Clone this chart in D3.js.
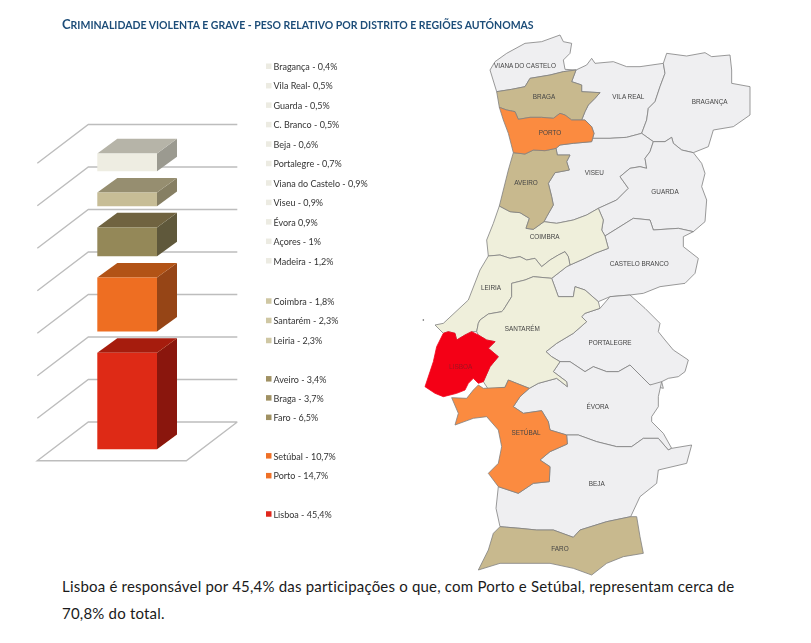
<!DOCTYPE html>
<html>
<head>
<meta charset="utf-8">
<script src="https://cdn.jsdelivr.net/npm/d3@7/dist/d3.min.js"></script>
<style>
html,body{margin:0;padding:0;background:#fff;}
svg{display:block;}
</style>
</head>
<body>
<svg id="chart" width="811" height="643"></svg>
<script>
// ---------- Chart data ----------
const titleText = "Criminalidade violenta e grave - peso relativo por distrito e regiões autónomas";
const captionLines = [
  "Lisboa é responsável por 45,4% das participações o que, com Porto e Setúbal, representam cerca de",
  "70,8% do total."
];
const barGroups = ["Lisboa", "Setúbal + Porto", "Aveiro + Braga + Faro", "Coimbra + Santarém + Leiria", "Restantes"];
const barValues = [45.4, 25.4, 13.6, 6.4, 8.4];
const barGap = 10;
const gridTicks = [0, 20, 40, 60, 80, 100, 120, 140];
const legendLabels = ["Bragança - 0,4%", "Vila Real- 0,5%", "Guarda - 0,5%", "C. Branco - 0,5%", "Beja - 0,6%", "Portalegre - 0,7%", "Viana do Castelo - 0,9%", "Viseu - 0,9%", "Évora 0,9%", "Açores - 1%", "Madeira - 1,2%", "Coimbra - 1,8%", "Santarém - 2,3%", "Leiria - 2,3%", "Aveiro - 3,4%", "Braga - 3,7%", "Faro - 6,5%", "Setúbal - 10,7%", "Porto - 14,7%", "Lisboa - 45,4%"];
const legendRows = [0, 1, 2, 3, 4, 5, 6, 7, 8, 9, 10, 12.07, 13.07, 14.1, 16.07, 17.05, 18.05, 20.03, 21.05, 23.02];
const legendClasses = [0,0,0,0,0,0,0,0,0,0,0,1,1,1,2,2,2,3,3,4];

// ---------- Map outlines (map units) ----------
const viana = [[80,185],[60,120],[75,95],[110,70],[165,40],[215,35],[270,15],[280,35],[305,40],[300,70],[280,90],[285,118],[318,120],[280,125],[240,135],[180,145],[165,170],[125,178]];
const braga = [[318,120],[305,155],[335,165],[335,185],[390,188],[375,205],[355,225],[345,245],[335,270],[305,270],[285,255],[270,250],[250,265],[215,262],[180,262],[145,268],[135,245],[110,240],[88,232],[80,185],[125,178],[165,170],[180,145],[240,135],[280,125]];
const porto = [[88,232],[110,240],[135,245],[145,268],[180,262],[215,262],[250,265],[270,250],[285,255],[305,270],[335,270],[345,270],[365,290],[372,310],[365,335],[310,340],[270,345],[258,355],[225,362],[190,360],[165,372],[130,368],[115,310],[100,270]];
const aveiro = [[130,368],[165,372],[190,360],[225,362],[258,355],[262,375],[300,375],[290,395],[298,420],[255,428],[235,460],[245,500],[250,525],[230,560],[222,575],[190,598],[168,595],[178,565],[150,548],[120,545],[88,528],[100,480],[115,420]];
const vilaReal = [[318,120],[350,105],[365,85],[375,100],[430,95],[470,110],[510,110],[580,100],[585,130],[570,170],[555,215],[535,235],[530,270],[515,310],[470,322],[420,325],[368,325],[372,310],[365,290],[345,270],[335,270],[345,245],[355,225],[375,205],[390,188],[335,185],[335,165],[305,155]];
const braganca = [[585,130],[580,100],[590,70],[650,78],[705,68],[725,80],[780,75],[785,120],[785,160],[840,170],[840,255],[790,290],[730,300],[715,350],[670,368],[635,360],[610,340],[605,322],[585,335],[550,335],[515,310],[530,270],[535,235],[555,215],[570,170]];
const viseu = [[258,355],[270,345],[310,340],[365,335],[368,325],[420,325],[470,322],[515,310],[550,335],[540,365],[525,385],[530,415],[510,410],[480,415],[450,440],[475,475],[440,510],[385,535],[350,555],[310,570],[260,580],[222,575],[230,560],[250,525],[245,500],[235,460],[255,428],[298,420],[290,395],[300,375],[262,375]];
const guarda = [[550,335],[585,335],[605,322],[610,340],[635,360],[670,368],[695,400],[705,430],[695,470],[710,510],[705,575],[670,605],[625,595],[550,600],[540,570],[490,565],[450,590],[405,618],[395,600],[400,570],[385,535],[440,510],[475,475],[450,440],[480,415],[510,410],[530,415],[525,385],[540,365]];
const casteloBranco = [[405,618],[450,590],[490,565],[540,570],[550,600],[625,595],[670,605],[640,620],[640,650],[685,685],[675,730],[645,760],[570,770],[520,790],[480,795],[420,800],[385,815],[345,780],[315,770],[310,800],[265,800],[245,745],[290,710],[300,705],[345,685],[375,670],[415,655]];
const coimbra = [[88,528],[120,545],[150,548],[178,565],[168,595],[190,598],[222,575],[260,580],[310,570],[350,555],[385,535],[400,570],[395,600],[405,618],[415,655],[375,670],[345,685],[300,705],[295,680],[285,665],[265,675],[240,690],[215,710],[195,685],[170,690],[150,680],[120,685],[90,675],[55,678],[50,630],[70,580]];
const leiria = [[55,678],[90,675],[120,685],[150,680],[170,690],[195,685],[215,710],[240,690],[265,675],[285,665],[295,680],[300,705],[290,710],[245,745],[190,740],[165,750],[125,760],[125,800],[100,840],[95,845],[55,852],[30,870],[25,880],[20,905],[5,905],[-15,915],[-40,930],[-45,910],[-65,905],[-80,910],[-105,885],[-80,880],[-5,810],[30,720]];
const santarem = [[20,905],[25,880],[30,870],[55,852],[95,845],[100,840],[125,800],[125,760],[165,750],[190,740],[245,745],[265,800],[310,800],[315,770],[345,780],[385,815],[390,835],[345,850],[335,860],[350,875],[310,910],[260,940],[228,965],[245,980],[270,995],[250,1025],[290,1055],[292,1070],[260,1045],[205,1060],[178,1075],[140,1060],[115,1050],[105,1072],[55,1078],[40,1055],[60,1010],[85,980],[55,955],[75,935],[50,930],[25,915]];
const lisboa = [[-80,910],[-65,905],[-45,910],[-40,930],[-15,915],[5,905],[25,915],[50,930],[75,935],[55,955],[85,980],[60,1010],[40,1055],[25,1060],[10,1045],[-5,1060],[-15,1080],[-40,1090],[-80,1100],[-105,1090],[-135,1070],[-120,1025],[-110,995],[-100,950]];
const portalegre = [[228,965],[260,940],[310,910],[350,875],[335,860],[345,850],[390,835],[420,800],[480,795],[525,835],[570,880],[565,905],[585,930],[610,960],[655,990],[645,1025],[625,1040],[595,1045],[575,1055],[580,1075],[540,1065],[515,1040],[480,1005],[445,1025],[410,1025],[370,1010],[345,1025],[300,995],[270,995],[245,980]];
const evora = [[178,1075],[205,1060],[260,1045],[292,1070],[290,1055],[250,1025],[270,995],[300,995],[345,1025],[370,1010],[410,1025],[445,1025],[480,1005],[515,1040],[540,1065],[575,1055],[565,1100],[565,1130],[545,1160],[545,1175],[580,1210],[605,1255],[595,1260],[565,1225],[520,1225],[485,1250],[440,1250],[380,1235],[325,1215],[290,1215],[240,1200],[235,1175],[215,1142],[160,1150],[130,1130],[150,1100]];
const setubal = [[-55,1103],[-10,1105],[10,1080],[25,1065],[40,1075],[105,1072],[115,1050],[140,1060],[178,1075],[150,1100],[130,1130],[160,1150],[215,1142],[235,1175],[240,1200],[290,1215],[292,1242],[240,1265],[210,1290],[240,1310],[238,1355],[190,1360],[145,1390],[85,1370],[55,1330],[85,1300],[95,1250],[85,1200],[50,1160],[10,1165],[-45,1185],[-35,1150]];
const beja = [[290,1215],[325,1215],[380,1235],[440,1250],[485,1250],[520,1225],[565,1225],[595,1260],[605,1255],[665,1245],[650,1300],[565,1320],[560,1360],[510,1400],[482,1460],[410,1475],[330,1500],[310,1522],[250,1500],[200,1500],[150,1495],[90,1490],[78,1435],[85,1370],[145,1390],[190,1360],[238,1355],[240,1310],[210,1290],[240,1265],[292,1242]];
const faro = [[90,1490],[150,1495],[200,1500],[250,1500],[310,1522],[330,1500],[410,1475],[482,1460],[500,1460],[510,1520],[520,1570],[460,1580],[410,1600],[365,1635],[310,1615],[240,1600],[150,1600],[90,1600],[25,1620],[55,1560],[70,1510]];

const mapDistricts = [
  {name:"VIANA DO CASTELO", cls:0, outline:viana, at:[165,108]},
  {name:"VILA REAL", cls:0, outline:vilaReal, at:[475,200]},
  {name:"BRAGANÇA", cls:0, outline:braganca, at:[719,215]},
  {name:"VISEU", cls:0, outline:viseu, at:[373,430]},
  {name:"GUARDA", cls:0, outline:guarda, at:[585,487]},
  {name:"CASTELO BRANCO", cls:0, outline:casteloBranco, at:[508,703]},
  {name:"PORTALEGRE", cls:0, outline:portalegre, at:[420,938]},
  {name:"ÉVORA", cls:0, outline:evora, at:[383,1130]},
  {name:"BEJA", cls:0, outline:beja, at:[380,1363]},
  {name:"COIMBRA", cls:1, outline:coimbra, at:[224,622]},
  {name:"LEIRIA", cls:1, outline:leiria, at:[63,775]},
  {name:"SANTARÉM", cls:1, outline:santarem, at:[157,898]},
  {name:"BRAGA", cls:2, outline:braga, at:[222,200]},
  {name:"AVEIRO", cls:2, outline:aveiro, at:[168,460]},
  {name:"FARO", cls:2, outline:faro, at:[270,1558]},
  {name:"PORTO", cls:3, outline:porto, at:[240,310]},
  {name:"SETÚBAL", cls:3, outline:setubal, at:[168,1210]},
  {name:"LISBOA", cls:4, outline:lisboa, at:[-28,1010]}
];
const mapDot = [-140, 870];

// ---------- Palettes ----------
const mapFills = ["#efeff1", "#efefdb", "#c8b98e", "#fb8b3f", "#f40019"];
const legendFills = ["#ecebe2", "#cfc7a3", "#a09163", "#ef7028", "#e0261a"];
const barFront = ["#de2a13", "#ee6e22", "#948859", "#c7bd96", "#eeede2"];
const barTop = ["#a61c0b", "#b25217", "#6f6440", "#968e6f", "#b6b4a8"];
const barSide = ["#8a1607", "#964514", "#5f583a", "#867f63", "#9b9a90"];

// ---------- Layout scales ----------
const svg = d3.select("#chart");
const defs = svg.append("defs");
defs.append("filter").attr("id","soft").attr("x","-5%").attr("y","-5%").attr("width","110%").attr("height","110%")
  .append("feGaussianBlur").attr("stdDeviation",0.45);
defs.append("filter").attr("id","softText").attr("x","-5%").attr("y","-20%").attr("width","110%").attr("height","140%")
  .append("feGaussianBlur").attr("stdDeviation",0.25);

// Title
const title = svg.append("text").attr("x",62).attr("y",29).attr("fill","#1f4e79")
  .attr("font-family","Lato, sans-serif").attr("font-weight",700).attr("font-size",10.5)
  .attr("filter","url(#softText)");
title.append("tspan").attr("font-size",13).text(titleText[0].toUpperCase());
title.append("tspan").text(titleText.slice(1).toUpperCase());

// 3D chart
const wall = {x0:88.3, x1:237.3, depthX:51, depthY:38.7};
const y = d3.scaleLinear().domain([0,140]).range([422,124.5]);
const barY = d3.scaleLinear().domain([0,140]).range([449.3,151.8]);
const barLeft = 97.3, barRight = 157, barDX = 20, barDY = -14.7;

const chart = svg.append("g").attr("filter","url(#soft)");
const gridPath = d3.line();
chart.selectAll("path.grid").data(gridTicks).join("path").attr("class","grid")
  .attr("fill","none").attr("stroke","#bdbdbd").attr("stroke-width",1.4)
  .attr("d", t => t === 0
    ? gridPath([[wall.x1,y(t)],[wall.x0,y(t)],[wall.x0-wall.depthX,y(t)+wall.depthY],[wall.x1-wall.depthX,y(t)+wall.depthY],[wall.x1,y(t)]])
    : gridPath([[wall.x1,y(t)],[wall.x0,y(t)],[wall.x0-wall.depthX,y(t)+wall.depthY]]));

let cumulative = 0;
const barRows = barValues.map((v,i) => {
  const row = {name:barGroups[i], i, start:cumulative, end:cumulative+v};
  cumulative += v + barGap;
  return row;
});
const poly = d3.line();
const bars = chart.selectAll("g.bar").data(barRows).join("g").attr("class","bar");
bars.append("path").attr("fill",d=>barSide[d.i]).attr("d",d=>poly([[barRight,barY(d.start)],[barRight+barDX,barY(d.start)+barDY],[barRight+barDX,barY(d.end)+barDY],[barRight,barY(d.end)]])+"Z");
bars.append("path").attr("fill",d=>barTop[d.i]).attr("d",d=>poly([[barLeft,barY(d.end)],[barLeft+barDX,barY(d.end)+barDY],[barRight+barDX,barY(d.end)+barDY],[barRight,barY(d.end)]])+"Z");
bars.append("path").attr("fill",d=>barFront[d.i]).attr("d",d=>poly([[barLeft,barY(d.start)],[barLeft,barY(d.end)],[barRight,barY(d.end)],[barRight,barY(d.start)]])+"Z");

// Legend
const legendY = d3.scaleLinear().domain([0,1]).range([67,86.45]);
const legend = svg.append("g").attr("filter","url(#softText)");
const legendItems = legend.selectAll("g").data(legendLabels).join("g")
  .attr("transform",(d,i)=>`translate(0,${legendY(legendRows[i])})`);
legendItems.append("rect").attr("x",266).attr("y",-3.5).attr("width",5.5).attr("height",5.5).attr("fill",(d,i)=>legendFills[legendClasses[i]]);
legendItems.append("text").attr("x",273.5).attr("y",3).attr("font-family","Lato, sans-serif").attr("font-size",9).attr("fill","#333").text(d=>d);

// Map
const mapX = d3.scaleLinear().domain([0,840]).range([470,750]);
const mapY = d3.scaleLinear().domain([0,840]).range([30,310]);
const mapLine = d3.line().x(d=>mapX(d[0])).y(d=>mapY(d[1]));
const map = svg.append("g").attr("filter","url(#soft)");
map.selectAll("path").data(mapDistricts).join("path")
  .attr("d",d=>mapLine(d.outline)+"Z")
  .attr("fill",d=>mapFills[d.cls]).attr("stroke",d=>d.cls===4?"#f40019":"#808080").attr("stroke-width",0.8).attr("stroke-linejoin","round");
map.append("circle").attr("cx",mapX(mapDot[0])).attr("cy",mapY(mapDot[1])).attr("r",0.8).attr("fill","#555");
const mapLabels = svg.append("g").attr("filter","url(#softText)");
mapLabels.selectAll("text").data(mapDistricts).join("text")
  .attr("x",d=>mapX(d.at[0])).attr("y",d=>mapY(d.at[1])+2)
  .attr("text-anchor","middle").attr("font-family","'Liberation Sans', Arial, sans-serif").attr("font-size",6.4)
  .attr("fill",d=>d.cls===4?"#a01020":"#444").text(d=>d.name);

// Caption
svg.append("g").selectAll("text").data(captionLines).join("text")
  .attr("x",62).attr("y",(d,i)=>592+i*27)
  .attr("font-family","Lato, sans-serif").attr("font-size",15).attr("letter-spacing",0.2).attr("fill","#1a1a1a").text(d=>d);
</script>
</body>
</html>
